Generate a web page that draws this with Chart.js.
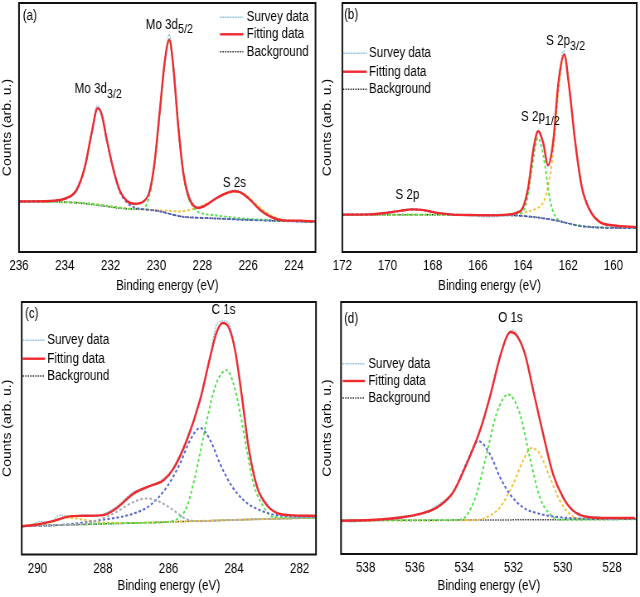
<!DOCTYPE html>
<html>
<head>
<meta charset="utf-8">
<script src="https://cdn.jsdelivr.net/npm/chart.js@4.4.0/dist/chart.umd.min.js"></script>
<style>
html, body { margin: 0; padding: 0; background: #fff; }
#fig { position: relative; width: 640px; height: 597px; overflow: hidden; }
.panel { position: absolute; transform-origin: 0 0; }
</style>
</head>
<body>
<div id="fig">
  <div class="panel" id="pa"><canvas id="ca"></canvas></div>
  <div class="panel" id="pb"><canvas id="cb"></canvas></div>
  <div class="panel" id="pc"><canvas id="cc"></canvas></div>
  <div class="panel" id="pd"><canvas id="cd"></canvas></div>
</div>
<script>
// tick labels (binding energy, eV)
var ticksA = [236, 234, 232, 230, 228, 226, 224];
var ticksB = [172, 170, 168, 166, 164, 162, 160];
var ticksC = [290, 288, 286, 284, 282];
var ticksD = [538, 536, 534, 532, 530, 528];

var legendNames = ['Survey data', 'Fitting data', 'Background'];

// (a) Mo 3d / S 2s  -- [eV, counts]
var aSurvey = [[236,20.5],[235.2,20.1],[234.5,20.6],[233.9,21.5],[233.5,25.5],[233.1,35],[232.8,48.5],[232.6,58.8],[232.4,56],[232.17,45.8],[231.9,33.5],[231.6,25],[231.3,20.2],[230.9,19.0],[230.57,20.0],[230.3,25.4],[230.07,37.5],[229.85,58],[229.6,78.5],[229.45,87.5],[229.27,76],[229.05,51.5],[228.83,33],[228.6,24],[228.4,19.6],[228.17,18.0],[227.8,18.6],[227.4,21.9],[226.94,23.5],[226.6,24.9],[226.36,24.3],[225.9,21.4],[225.5,16.6],[225.05,14.5],[224.5,12.9],[223.7,12.3],[223.06,12.6]];
var aFit = [[236,20.3],[234.65,20.5],[233.92,21.7],[233.48,25],[233.12,34.4],[232.83,47.8],[232.57,57.8],[232.39,55.2],[232.17,45.1],[231.88,33.1],[231.59,24.4],[231.3,20.6],[230.94,19.4],[230.57,20.3],[230.28,25],[230.07,37.1],[229.85,57.2],[229.63,77.2],[229.44,85.3],[229.27,74.6],[229.05,50.5],[228.83,31.7],[228.61,22.4],[228.39,18.6],[228.17,17.7],[227.81,19],[227.37,21.7],[226.94,23.7],[226.65,24.4],[226.36,24],[225.92,21],[225.48,17],[225.05,14.3],[224.47,12.7],[223.74,12.6],[223.06,12.3]];
var aBg = [[236,20.3],[234.5,20.2],[233.5,19.8],[232.5,18.7],[231.5,17.5],[230.5,17.1],[229.8,16.3],[229.3,15.0],[228.8,14.1],[228,13.7],[227,13.3],[226,12.9],[225,12.6],[224,12.3],[223.06,12.0]];
var aMo32 = [[236,20.3],[234.65,20.5],[233.92,21.6],[233.48,25],[233.12,34.4],[232.83,47.8],[232.57,57.8],[232.39,55],[232.17,45],[231.88,33],[231.59,24],[231.3,20],[231,18],[230.6,17.2],[230.2,16.8],[229.8,16.2],[229.3,15.0],[228.8,14.1],[228,13.7],[227,13.3],[226,12.9],[224,12.3],[223.06,12.0]];
var aMo52 = [[236,20.3],[233,19.5],[232,18.3],[231,17.2],[230.57,17.3],[230.28,24],[230.07,36],[229.85,56.5],[229.63,77],[229.44,85],[229.27,74.6],[229.05,50.5],[228.83,31.5],[228.61,22],[228.39,18],[228.2,16.2],[228,15.5],[227.5,14.8],[227,14.2],[226,13.3],[225,12.8],[224,12.4],[223.06,12.1]];
var aS2s = [[236,20.3],[233,19.5],[232,18.3],[231,17.3],[230,16.8],[229.5,16.5],[229,16.3],[228.6,16.8],[228.2,17.8],[227.8,19.5],[227.4,21.5],[227,23.2],[226.55,24.2],[226.1,23],[225.7,19.5],[225.3,16.5],[225,14.6],[224.6,13.2],[224,12.6],[223.06,12.3]];

// (b) S 2p
var bSurvey = [[172,15.2],[171,14.9],[170,15.6],[168.9,17.3],[167.8,15.5],[166.5,14.6],[165.6,14.1],[165,14.3],[164.5,15.0],[164.0,18.3],[163.77,26.5],[163.55,41.2],[163.35,48.8],[163.1,43.2],[162.92,35.2],[162.66,45.5],[162.44,68.2],[162.2,80.8],[161.96,67],[161.7,45.2],[161.4,26.8],[161.04,17.3],[160.6,12.3],[160,10.4],[159,10.2]];
var bFit = [[172,15.0],[170.8,15.1],[170.0,15.8],[169.4,16.6],[168.9,17.1],[168.4,16.8],[167.8,15.7],[167.1,15.0],[166,14.8],[165.6,14.7],[164.7,15.0],[164.3,15.7],[164.0,18],[163.77,26],[163.55,40.8],[163.33,48.5],[163.1,43.5],[162.9,34.8],[162.66,44.8],[162.44,67.6],[162.18,79.3],[161.96,66.3],[161.7,44.8],[161.4,26.1],[161.04,16.7],[160.6,12],[160,10.7],[159,10]];
var bBg = [[172,15.0],[168,15.0],[165,14.8],[164.2,14.6],[163.5,14.0],[163,13.4],[162.5,12.6],[162,11.5],[161.5,10.5],[161,10.0],[160,9.7],[159,9.6]];
var bS2p = [[172,15.0],[170.5,15.2],[170,15.8],[169.4,16.6],[168.9,17.1],[168.4,16.8],[167.8,15.7],[167.1,15.0],[165,14.8],[164.2,14.6],[163.5,14.0],[163,13.4],[162.5,12.6],[162,11.5],[161.5,10.5],[161,10.0],[160,9.7],[159,9.6]];
var bS2p12 = [[172,15.0],[166,14.9],[164.5,14.9],[164.1,15.5],[163.85,20],[163.65,31],[163.5,40],[163.35,45.8],[163.2,43],[163.0,33],[162.85,23],[162.7,17],[162.5,13.5],[162.2,12],[161.5,10.6],[160.5,9.8],[159,9.6]];
var bS2p32 = [[172,15.0],[166,14.9],[165,14.9],[164.3,15.2],[163.8,16.2],[163.4,17.5],[163.1,20],[162.9,26],[162.75,34],[162.6,47],[162.44,64],[162.18,79],[161.96,66.3],[161.7,44.8],[161.4,26.1],[161.04,16.7],[160.6,12],[160,10.7],[159,10]];

// (c) C 1s
var cSurvey = [[290.48,10.8],[290.2,11.7],[289.9,13.1],[289.6,12.8],[289.33,15.6],[289.0,15.0],[288.6,15.8],[288.3,15.2],[288,16.0],[287.6,18.9],[287.07,24.8],[286.56,27.0],[286.15,30.2],[285.85,34.5],[285.44,46.1],[285.04,61.6],[284.73,78.8],[284.53,91.2],[284.35,92.5],[284.17,91.8],[283.97,81.5],[283.76,63.2],[283.56,43.5],[283.3,27.5],[283,20.5],[282.7,16.2],[282.3,15.3],[281.5,15.6]];
var cFit = [[290.48,11.2],[290,11.9],[289.5,13.3],[289.1,14.9],[288.6,15.3],[288,15.6],[287.6,18.2],[287.07,24.1],[286.56,27.2],[286.15,29.4],[285.85,34],[285.44,45.3],[285.04,61.1],[284.73,78.2],[284.53,88.1],[284.35,91.7],[284.17,90.1],[283.97,80.9],[283.76,62.4],[283.56,42.6],[283.3,26.8],[283,19.5],[282.7,16.5],[282.3,15.6],[281.5,15.3]];
var cBg = [[290.5,11.2],[288,12.1],[286,12.9],[284,13.7],[282,14.4],[281.5,14.6]];
var cGrey = [[290.5,11.2],[289.5,11.6],[288.6,12.2],[288.09,13.9],[287.58,16.9],[287.07,20.8],[286.66,22.2],[286.26,20.8],[285.85,17.5],[285.44,13.9],[285.0,13.2],[284,13.7],[282,14.4],[281.5,14.6]];
var cBlue = [[290.5,11.2],[289.1,11.9],[288.09,13.6],[287.07,16.2],[286.56,19.5],[286.05,26.8],[285.65,36],[285.34,45.3],[285.04,50.1],[284.73,45.3],[284.43,36],[284.12,28.1],[283.71,21.5],[283.2,17.5],[282.7,15.6],[281.5,14.9]];
var cGreen = [[290.5,11.2],[287,12.5],[286.05,12.9],[285.65,14.9],[285.44,18.9],[285.24,28.1],[285.04,40],[284.83,53.2],[284.58,66.4],[284.37,71.9],[284.22,73],[284.02,67.7],[283.81,55.8],[283.61,41.3],[283.41,28.1],[283.1,18.9],[282.8,14.9],[281.5,14.6]];
var cYellow = [[290.5,11.2],[289.6,12.8],[289.1,14.6],[288.6,13.8],[288,12.6],[287,12.5],[286,12.9],[284,13.7],[282,14.4],[281.5,14.6]];

// (d) O 1s
var dSurvey = [[539,13.1],[538.5,12.7],[538,13.6],[537.5,13.2],[536.8,14.5],[536.3,15.2],[535.8,15.6],[535.1,19.4],[534.45,24.8],[533.9,36.2],[533.36,49.5],[532.96,62.8],[532.55,78.6],[532.28,86.5],[532.0,88.9],[531.88,87.8],[531.54,79.8],[531.2,65.2],[530.8,48.1],[530.4,32.1],[529.99,22.8],[529.58,17.0],[529.04,14.3],[528.6,14.9],[528.23,13.9],[527.8,13.5],[527.5,14.4],[527.08,13.6]];
var dFit = [[539,13.2],[537.8,13.5],[536.5,14.6],[535.8,15.9],[535.1,18.5],[534.45,24.5],[533.9,35.8],[533.36,49],[532.96,62.3],[532.55,78.1],[532.28,86.1],[532.12,88.1],[531.88,86.8],[531.54,79.5],[531.2,64.9],[530.8,47.7],[530.4,31.8],[529.99,22.5],[529.58,17.2],[529.04,14.8],[528.23,14.3],[527.08,14.3]];
var dBg = [[539,13.3],[533,13.5],[527,13.8]];
var dBlue = [[539,13.0],[536.5,14.6],[535.1,18.5],[534.45,24.5],[533.9,36.3],[533.43,44.8],[532.96,39.7],[532.55,30.5],[532.15,23.8],[531.61,18.5],[530.93,15.9],[530.12,14.6],[529.04,14],[527,14]];
var dGreen = [[539,13.3],[534.4,13.5],[534.18,13.6],[533.91,15.2],[533.5,23.8],[533.09,39.7],[532.69,55.6],[532.22,63.3],[531.74,55.6],[531.34,38.4],[530.93,22.5],[530.53,15.9],[530.12,13.6],[527,13.8]];
var dYellow = [[539,13.3],[533.64,13.4],[533.09,14.6],[532.55,18.5],[532.01,27.8],[531.61,37.1],[531.27,42.1],[530.93,39.7],[530.53,30.5],[530.12,21.2],[529.72,15.9],[529.31,13.9],[527.08,13.9]];

var K = 320 / 386;   // the figure is squeezed horizontally
var FONT = '14px "Liberation Sans", Arial, sans-serif';
var SUB = '13px "Liberation Sans", Arial, sans-serif';
var INK = '#000';

var RED = '#ee2a2f', SKY = '#8fc2dc', BLUE = '#5266d0', GREEN = '#52e34a', YEL = '#f7c12f', GREY = '#a4aab6';

function pts(arr) { return arr.map(function (p) { return { x: p[0], y: p[1] }; }); }

function fitLine(d) { return { data: pts(d), borderColor: RED, borderWidth: 2.4, order: 0 }; }
function surveyLine(d) { return { data: pts(d), borderColor: SKY, borderWidth: 1.3, borderDash: [2, 1], order: 1 }; }
function compLine(d, c) { return { data: pts(d), borderColor: c, borderWidth: 2, borderDash: [3, 2.5], order: 2 }; }
function bgLine(d) { return { data: pts(d), borderColor: '#222', borderWidth: 1.5, borderDash: [1.5, 1.5], order: 3 }; }

var extras = {
  id: 'extras',
  afterDatasetsDraw: function (chart, args, o) {
    var ctx = chart.ctx, a = chart.chartArea;
    var xs = chart.scales.x, ys = chart.scales.y;
    ctx.save();
    ctx.strokeStyle = '#111';
    ctx.lineWidth = 2;
    ctx.strokeRect(a.left, a.top, a.right - a.left, a.bottom - a.top);

    ctx.fillStyle = INK;
    ctx.textBaseline = 'middle';
    ctx.textAlign = 'left';
    ctx.font = FONT;
    ctx.fillText(o.tag, o.tagX / K, o.tagY);

    // legend
    var lg = o.legend;
    var styles = [
      { c: SKY, w: 1.4, d: [2, 1] },
      { c: RED, w: 2.4, d: [] },
      { c: '#222', w: 1.5, d: [1.5, 1.5] }
    ];
    legendNames.forEach(function (name, i) {
      var y = lg.rows[i];
      ctx.beginPath();
      ctx.setLineDash(styles[i].d);
      ctx.strokeStyle = styles[i].c;
      ctx.lineWidth = styles[i].w;
      ctx.moveTo(lg.x0 / K, y);
      ctx.lineTo(lg.x1 / K, y);
      ctx.stroke();
      ctx.setLineDash([]);
      ctx.fillStyle = INK;
      ctx.font = FONT;
      ctx.fillText(name, lg.tx / K, y);
    });

    // peak names
    o.peaks.forEach(function (p) {
      var px = xs.getPixelForValue(p.x), py = ys.getPixelForValue(p.y);
      ctx.font = FONT;
      var w1 = ctx.measureText(p.main).width;
      ctx.font = SUB;
      var w2 = p.sub ? ctx.measureText(p.sub).width : 0;
      var x0 = px - (w1 + w2) / 2;
      ctx.fillStyle = INK;
      ctx.font = FONT;
      ctx.fillText(p.main, x0, py);
      if (p.sub) {
        ctx.font = SUB;
        ctx.fillText(p.sub, x0 + w1, py + 5);
      }
    });
    ctx.restore();
  }
};

function makePanel(id, box, xr, tickVals, datasets, area, extra) {
  var wrap = document.getElementById('p' + id);
  wrap.style.left = box.left + 'px';
  wrap.style.top = box.top + 'px';
  wrap.style.width = Math.round(320 / K) + 'px';
  wrap.style.height = box.h + 'px';
  wrap.style.transform = 'scaleX(' + K + ')';

  datasets.forEach(function (ds) {
    ds.pointRadius = 0;
    ds.showLine = true;
    ds.fill = false;
    ds.cubicInterpolationMode = 'monotone';
  });

  new Chart(document.getElementById('c' + id), {
    type: 'scatter',
    data: { datasets: datasets },
    options: {
      responsive: true,
      maintainAspectRatio: false,
      animation: false,
      events: [],
      layout: { padding: { top: area.T, right: (320 - area.R) / K, left: 0, bottom: 0 } },
      plugins: {
        legend: { display: false },
        tooltip: { enabled: false },
        extras: extra
      },
      scales: {
        x: {
          type: 'linear',
          reverse: true,
          min: xr[1],
          max: xr[0],
          afterBuildTicks: function (s) { s.ticks = tickVals.map(function (v) { return { value: v }; }); },
          afterFit: function (s) { s.height = box.h - area.B; },
          grid: { display: false, drawTicks: false },
          border: { display: false },
          ticks: { color: INK, padding: 6, font: { size: 14 }, callback: function (v) { return String(v); } },
          title: { display: true, text: 'Binding energy (eV)', color: INK, font: { size: 14 }, padding: { top: 0, bottom: 2 } }
        },
        y: {
          min: 0,
          max: 100,
          afterFit: function (s) { s.width = area.L / K; },
          grid: { display: false, drawTicks: false },
          border: { display: false },
          ticks: { display: false },
          title: { display: true, text: 'Counts (arb. u.)', color: INK, font: { size: 14 }, padding: { top: 1, bottom: 0 } }
        }
      }
    },
    plugins: [extras]
  });
}

Chart.defaults.font.family = '"Liberation Sans", Arial, sans-serif';
Chart.defaults.font.size = 14;

makePanel('a', { left: 0, top: 0, h: 297 }, [236, 223.06], ticksA,
  [fitLine(aFit), surveyLine(aSurvey), compLine(aMo32, BLUE), compLine(aMo52, GREEN), compLine(aS2s, YEL), bgLine(aBg)],
  { L: 19, T: 3, R: 315.5, B: 252 },
  { tag: '(a)', tagX: 22.7, tagY: 15.7,
    legend: { x0: 220, x1: 243.3, tx: 246.7, rows: [17.3, 34.3, 51.7] },
    peaks: [
      { main: 'Mo 3d', sub: '3/2', x: 232.54, y: 65.3 },
      { main: 'Mo 3d', sub: '5/2', x: 229.44, y: 91.2 },
      { main: 'S 2s', sub: '', x: 226.6, y: 27.8 }
    ] });

makePanel('b', { left: 320, top: 0, h: 297 }, [172, 158.97], ticksB,
  [fitLine(bFit), surveyLine(bSurvey), compLine(bS2p, BLUE), compLine(bS2p12, GREEN), compLine(bS2p32, YEL), bgLine(bBg)],
  { L: 22.3, T: 3, R: 316.7, B: 252 },
  { tag: '(b)', tagX: 24, tagY: 15,
    legend: { x0: 23, x1: 46.7, tx: 49, rows: [53.3, 71.7, 89.3] },
    peaks: [
      { main: 'S 2p', sub: '3/2', x: 162.12, y: 84.7 },
      { main: 'S 2p', sub: '1/2', x: 163.23, y: 54.3 },
      { main: 'S 2p', sub: '', x: 169.12, y: 22.9 }
    ] });

makePanel('c', { left: 0, top: 297, h: 300 }, [290.48, 281.5], ticksC,
  [fitLine(cFit), surveyLine(cSurvey), compLine(cGrey, GREY), compLine(cBlue, BLUE), compLine(cGreen, GREEN), compLine(cYellow, YEL), bgLine(cBg)],
  { L: 21.7, T: 5, R: 316, B: 257.5 },
  { tag: '(c)', tagX: 25, tagY: 16.7,
    legend: { x0: 22.7, x1: 45, tx: 47.3, rows: [43.3, 61.7, 79] },
    peaks: [
      { main: 'C 1s', sub: '', x: 284.32, y: 96.7 }
    ] });

makePanel('d', { left: 320, top: 297, h: 300 }, [539, 527], ticksD,
  [fitLine(dFit), surveyLine(dSurvey), compLine(dBlue, BLUE), compLine(dGreen, GREEN), compLine(dYellow, YEL), bgLine(dBg)],
  { L: 21, T: 5, R: 316.7, B: 257 },
  { tag: '(d)', tagX: 24, tagY: 21.7,
    legend: { x0: 22.7, x1: 45, tx: 48.3, rows: [66.7, 84, 101] },
    peaks: [
      { main: 'O 1s', sub: '', x: 532.12, y: 93.4 }
    ] });
</script>
</body>
</html>
